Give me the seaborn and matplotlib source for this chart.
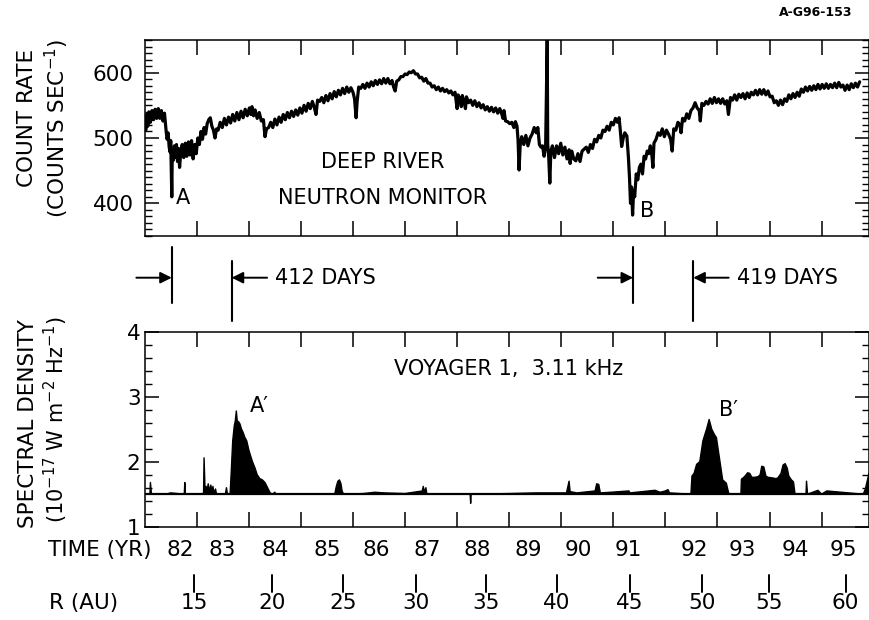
import numpy as np
import pandas as pd
import matplotlib
matplotlib.use("Agg")
import matplotlib.pyplot as plt
import seaborn as sns
from matplotlib.ticker import MultipleLocator, FixedLocator

# ---------------- data ----------------
# Deep River neutron monitor count rate (time axis in panel tick units)
nm_time = [81.00, 81.02, 81.04, 81.06, 81.08, 81.11, 81.14, 81.17, 81.20, 81.23, 81.26, 81.29, 81.32, 81.35, 81.38,
           81.41, 81.43, 81.45, 81.47, 81.49, 81.50, 81.52, 81.53, 81.55, 81.57, 81.59, 81.61, 81.63, 81.65, 81.67,
           81.69, 81.72, 81.75, 81.78, 81.81, 81.84, 81.87, 81.90, 81.93, 81.96, 81.99, 82.02, 82.05, 82.08, 82.11,
           82.14, 82.17, 82.20, 82.23, 82.26, 82.29, 82.32, 82.35, 82.38, 82.41, 82.45, 82.49, 82.53, 82.57, 82.61,
           82.65, 82.69, 82.73, 82.77, 82.81, 82.85, 82.89, 82.93, 82.97, 83.01, 83.04, 83.06, 83.09, 83.12, 83.16,
           83.20, 83.24, 83.28, 83.31, 83.34, 83.38, 83.42, 83.46, 83.50, 83.54, 83.58, 83.62, 83.66, 83.70, 83.74,
           83.78, 83.82, 83.86, 83.90, 83.94, 83.98, 84.02, 84.06, 84.10, 84.14, 84.18, 84.22, 84.26, 84.29, 84.32,
           84.36, 84.40, 84.44, 84.48, 84.52, 84.56, 84.60, 84.64, 84.68, 84.72, 84.76, 84.80, 84.84, 84.88, 84.92,
           84.96, 85.00, 85.03, 85.06, 85.08, 85.11, 85.15, 85.19, 85.23, 85.27, 85.31, 85.35, 85.39, 85.43, 85.47,
           85.51, 85.55, 85.59, 85.63, 85.67, 85.71, 85.75, 85.78, 85.81, 85.84, 85.88, 85.92, 85.96, 86.00, 86.04,
           86.08, 86.12, 86.16, 86.20, 86.24, 86.28, 86.32, 86.36, 86.40, 86.44, 86.48, 86.52, 86.56, 86.60, 86.64,
           86.68, 86.72, 86.76, 86.80, 86.84, 86.88, 86.92, 86.96, 87.00, 87.02, 87.05, 87.08, 87.10, 87.13, 87.16,
           87.18, 87.22, 87.26, 87.30, 87.34, 87.38, 87.42, 87.46, 87.50, 87.54, 87.58, 87.62, 87.66, 87.70, 87.74,
           87.78, 87.82, 87.86, 87.88, 87.90, 87.93, 87.97, 88.01, 88.05, 88.09, 88.12, 88.15, 88.17, 88.19, 88.21,
           88.24, 88.28, 88.32, 88.36, 88.40, 88.44, 88.48, 88.52, 88.55, 88.58, 88.61, 88.64, 88.67, 88.70, 88.73,
           88.74, 88.76, 88.78, 88.80, 88.83, 88.87, 88.91, 88.95, 88.99, 89.03, 89.07, 89.11, 89.15, 89.17, 89.20,
           89.24, 89.28, 89.32, 89.36, 89.40, 89.44, 89.48, 89.52, 89.56, 89.60, 89.64, 89.68, 89.72, 89.76, 89.80,
           89.84, 89.88, 89.92, 89.96, 90.00, 90.04, 90.08, 90.11, 90.13, 90.16, 90.19, 90.22, 90.26, 90.29, 90.31,
           90.33, 90.35, 90.37, 90.39, 90.41, 90.44, 90.47, 90.50, 90.53, 90.56, 90.59, 90.62, 90.65, 90.68, 90.71,
           90.74, 90.76, 90.78, 90.82, 90.86, 90.90, 90.94, 90.98, 91.02, 91.06, 91.10, 91.13, 91.16, 91.20, 91.24,
           91.28, 91.30, 91.33, 91.37, 91.41, 91.45, 91.49, 91.53, 91.57, 91.61, 91.65, 91.67, 91.70, 91.74, 91.78,
           91.82, 91.86, 91.90, 91.94, 91.98, 92.02, 92.06, 92.10, 92.14, 92.18, 92.21, 92.25, 92.29, 92.33, 92.37,
           92.41, 92.45, 92.49, 92.53, 92.57, 92.61, 92.65, 92.69, 92.73, 92.77, 92.81, 92.85, 92.89, 92.93, 92.97,
           93.01, 93.05, 93.09, 93.13, 93.17, 93.21, 93.25, 93.29, 93.33, 93.37, 93.41, 93.45, 93.49, 93.53, 93.57,
           93.61, 93.65, 93.69, 93.73, 93.77, 93.81, 93.85, 93.89, 93.93, 93.97, 94.01, 94.05, 94.09, 94.13, 94.17,
           94.21, 94.25, 94.29, 94.33, 94.37, 94.41, 94.45, 94.49, 94.53, 94.57, 94.61, 94.65, 94.69, 94.73]
nm_rate = [528, 512, 536, 518, 540, 524, 542, 528, 544, 530, 545, 530, 542, 526, 538,
           512, 498, 508, 486, 478, 496, 410, 482, 466, 488, 470, 490, 464, 484, 455,
           476, 490, 470, 492, 472, 494, 474, 496, 468, 490, 476, 500, 490, 510, 498,
           516, 506, 522, 528, 531, 518, 512, 500, 514, 512, 524, 516, 530, 520, 532,
           523, 536, 526, 539, 528, 541, 531, 544, 534, 546, 536, 548, 534, 543, 530,
           539, 526, 528, 502, 514, 516, 524, 516, 529, 520, 532, 524, 536, 528, 539,
           531, 541, 533, 543, 535, 546, 538, 550, 541, 553, 545, 556, 546, 536, 558,
           556, 562, 554, 565, 557, 568, 560, 571, 563, 573, 566, 576, 568, 578, 570,
           577, 570, 560, 531, 556, 578, 576, 582, 576, 584, 578, 586, 580, 588, 582,
           589, 583, 591, 584, 591, 583, 588, 578, 572, 587, 589, 594, 594, 598, 597,
           601, 600, 603, 598, 598, 592, 593, 587, 591, 584, 584, 578, 580, 574, 578,
           572, 576, 571, 574, 569, 572, 566, 570, 545, 566, 560, 548, 565, 556, 545,
           563, 554, 558, 550, 557, 548, 554, 546, 551, 543, 548, 541, 547, 540, 546,
           538, 545, 536, 530, 542, 526, 525, 522, 524, 516, 525, 518, 497, 451, 488,
           502, 490, 504, 488, 500, 506, 516, 508, 516, 490, 486, 488, 472, 488, 650,
           490, 470, 431, 480, 488, 470, 488, 476, 492, 474, 486, 468, 482, 461, 480,
           468, 465, 476, 464, 480, 483, 486, 478, 490, 484, 498, 494, 504, 500, 512,
           510, 518, 512, 524, 520, 530, 524, 531, 515, 487, 500, 508, 503, 470, 440,
           400, 425, 382, 420, 410, 445, 436, 455, 460, 445, 472, 468, 480, 476, 488,
           474, 455, 492, 498, 508, 504, 514, 502, 512, 506, 498, 480, 514, 512, 524,
           520, 508, 530, 526, 537, 530, 542, 546, 554, 546, 542, 526, 553, 550, 556,
           552, 560, 553, 562, 554, 560, 553, 560, 552, 557, 536, 562, 558, 566, 558,
           567, 562, 568, 560, 569, 562, 570, 566, 573, 566, 574, 567, 574, 566, 572,
           563, 564, 554, 557, 550, 558, 551, 560, 556, 566, 560, 568, 562, 570, 564,
           575, 570, 578, 572, 579, 573, 580, 574, 582, 575, 582, 576, 583, 576, 582,
           577, 584, 577, 585, 578, 581, 573, 581, 574, 583, 577, 584, 578, 586]

# Voyager 1 3.11 kHz spectral density (10^-17 W m^-2 Hz^-1)
sd_time = [81.00, 81.10, 81.11, 81.13, 81.40, 81.50, 81.76, 81.77, 81.78, 82.00, 82.10, 82.13, 82.14, 82.16,
           82.18, 82.20, 82.22, 82.24, 82.27, 82.29, 82.31, 82.33, 82.36, 82.38, 82.55, 82.57, 82.59, 82.64,
           82.66, 82.69, 82.72, 82.74, 82.76, 82.78, 82.80, 82.83, 82.86, 82.89, 82.92, 82.96, 83.00, 83.03,
           83.07, 83.12, 83.16, 83.21, 83.26, 83.31, 83.36, 83.41, 83.45, 83.50, 83.52, 84.00, 84.65, 84.68,
           84.71, 84.74, 84.77, 84.79, 84.82, 85.20, 85.42, 85.60, 86.00, 86.33, 86.35, 86.37, 86.40, 86.42,
           87.25, 87.26, 87.27, 88.00, 88.50, 88.90, 89.10, 89.15, 89.17, 89.30, 89.65, 89.68, 89.72, 89.75,
           89.95, 90.30, 90.32, 90.80, 90.90, 91.00, 91.05, 91.08, 91.49, 91.51, 91.55, 91.60, 91.66, 91.72,
           91.79, 91.84, 91.89, 91.94, 91.98, 92.04, 92.10, 92.17, 92.22, 92.45, 92.46, 92.52, 92.58, 92.62,
           92.66, 92.72, 92.78, 92.82, 92.85, 92.89, 92.93, 92.97, 93.06, 93.12, 93.16, 93.22, 93.26, 93.30,
           93.34, 93.37, 93.42, 93.46, 93.49, 93.70, 93.71, 93.73, 93.93, 94.00, 94.10, 94.80, 94.84, 94.88,
           94.91]
sd_value = [1.50, 1.50, 1.68, 1.50, 1.50, 1.52, 1.50, 1.68, 1.50, 1.50, 1.51, 1.50, 2.06, 1.55,
            1.62, 1.56, 1.66, 1.55, 1.64, 1.54, 1.62, 1.52, 1.58, 1.50, 1.50, 1.60, 1.50, 1.50,
            1.81, 2.32, 2.55, 2.63, 2.78, 2.60, 2.62, 2.58, 2.50, 2.45, 2.38, 2.32, 2.18, 2.10,
            2.00, 1.90, 1.80, 1.74, 1.72, 1.68, 1.60, 1.52, 1.50, 1.53, 1.50, 1.50, 1.50, 1.62,
            1.70, 1.72, 1.66, 1.55, 1.50, 1.51, 1.53, 1.52, 1.51, 1.55, 1.62, 1.53, 1.60, 1.50,
            1.50, 1.36, 1.50, 1.51, 1.52, 1.52, 1.52, 1.70, 1.54, 1.52, 1.55, 1.66, 1.65, 1.52,
            1.53, 1.55, 1.52, 1.56, 1.53, 1.55, 1.57, 1.52, 1.50, 1.78, 1.82, 1.96, 2.00, 2.32,
            2.50, 2.65, 2.50, 2.42, 2.37, 2.04, 1.72, 1.67, 1.50, 1.50, 1.73, 1.77, 1.83, 1.82,
            1.76, 1.76, 1.77, 1.80, 1.93, 1.92, 1.78, 1.76, 1.75, 1.74, 1.75, 1.82, 1.95, 1.97,
            1.90, 1.78, 1.72, 1.69, 1.50, 1.50, 1.70, 1.50, 1.56, 1.50, 1.55, 1.50, 1.58, 1.72,
            1.82]
sd_background = 1.5

year_ticks = [82, 83, 84, 85, 86, 87, 88, 89, 90, 91, 92, 93, 94]
year_labels = ["82", "83", "84", "85", "86", "87", "88", "89", "90", "91", "92", "93", "94", "95"]
year_label_pos = [81.68, 82.48, 83.50, 84.50, 85.44, 86.42, 87.38, 88.36, 89.32, 90.28, 91.55, 92.47, 93.49, 94.41]
r_labels = ["15", "20", "25", "30", "35", "40", "45", "50", "55", "60"]
r_pos = [81.95, 83.44, 84.81, 86.21, 87.55, 88.92, 90.32, 91.70, 92.99, 94.46]

forbush_time = [81.52, 90.38]      # A, B in neutron monitor
onset_time = [82.67, 91.535]       # A', B' onsets in Voyager data
lag_labels = ["412 DAYS", "419 DAYS"]

# ---------------- style ----------------
sns.set_theme(style="ticks")
plt.rcParams["font.family"] = ["DejaVu Sans"]
for k in ["text.color", "axes.labelcolor", "xtick.color", "ytick.color", "axes.edgecolor"]:
    plt.rcParams[k] = "black"
plt.rcParams["axes.linewidth"] = 1.1

W, H = 870, 620
fig = plt.figure(figsize=(8.7, 6.2), dpi=100)
fig.patch.set_facecolor("white")


def ax_px(l, t, r, b):
    return fig.add_axes([l / W, 1 - b / H, (r - l) / W, (b - t) / H])


XL = (81.0, 94.91)
FS = 15
TFS = 15.5
LFS = 15.5

# ---- top panel ----
ax1 = ax_px(144.7, 40, 869, 236)
sns.lineplot(x=nm_time, y=nm_rate, ax=ax1, color="black", lw=2.3, estimator=None, sort=False)
ax1.set_xlim(*XL)
ax1.set_ylim(350, 650)
ax1.xaxis.set_major_locator(FixedLocator(year_ticks))
ax1.yaxis.set_major_locator(MultipleLocator(100))
ax1.yaxis.set_minor_locator(MultipleLocator(10))
ax1.tick_params(axis="x", which="major", direction="in", length=11, width=1.1,
                top=True, bottom=True, labelbottom=False)
ax1.tick_params(axis="y", which="major", direction="in", length=10, width=1.1,
                left=True, right=True, labelsize=TFS, pad=8)
ax1.tick_params(axis="y", which="minor", direction="in", length=5, width=1.0, left=True, right=True)
ax1.set_xlabel("")
ax1.set_ylabel("")
ax1.text(0.329, 0.378, "DEEP RIVER", transform=ax1.transAxes, ha="center", va="center", fontsize=FS)
ax1.text(0.329, 0.195, "NEUTRON MONITOR", transform=ax1.transAxes, ha="center", va="center", fontsize=FS)
ax1.text(forbush_time[0] + 0.22, 0.195, "A", transform=ax1.get_xaxis_transform(), ha="center", va="center", fontsize=FS)
ax1.text(forbush_time[1] + 0.27, 0.128, "B", transform=ax1.get_xaxis_transform(), ha="center", va="center", fontsize=FS)

# ---- bottom panel ----
ax2 = ax_px(144.7, 331.7, 869, 526.7)
sd_arr = np.array(sd_value)
ax2.fill_between(sd_time, sd_background, sd_value, where=sd_arr >= sd_background,
                 interpolate=True, color="black", lw=0)
sns.lineplot(x=sd_time, y=sd_value, ax=ax2, color="black", lw=1.0, estimator=None, sort=False)
ax2.axhline(sd_background, color="black", lw=1.6)
ax2.set_xlim(*XL)
ax2.set_ylim(1, 4)
ax2.xaxis.set_major_locator(FixedLocator(year_ticks))
ax2.yaxis.set_major_locator(MultipleLocator(1))
ax2.yaxis.set_minor_locator(MultipleLocator(0.2))
ax2.tick_params(axis="x", which="major", direction="in", length=11, width=1.1,
                top=True, bottom=True, labelbottom=False)
ax2.tick_params(axis="y", which="major", direction="in", length=10, width=1.1,
                left=True, right=True, labelsize=TFS, pad=3)
ax2.tick_params(axis="y", which="minor", direction="in", length=5, width=1.0, left=True, right=True)
ax2.set_xlabel("")
ax2.set_ylabel("")
ax2.text(0.502, 0.81, "VOYAGER 1,  3.11 kHz", transform=ax2.transAxes, ha="center", va="center", fontsize=FS)
ax2.text(onset_time[0] + 0.53, 0.62, "A\u2032", transform=ax2.get_xaxis_transform(), ha="center", va="center", fontsize=FS)
ax2.text(onset_time[1] + 0.67, 0.60, "B\u2032", transform=ax2.get_xaxis_transform(), ha="center", va="center", fontsize=FS)

# ---- middle: delay markers (pixel-like y coordinates) ----
axm = ax_px(144.7, 240, 869, 330)
axm.set_xlim(*XL)
axm.set_ylim(330, 240)
axm.axis("off")
for f, o, lab in zip(forbush_time, onset_time, lag_labels):
    axm.plot([f, f], [247, 303], color="black", lw=1.5, clip_on=False)
    axm.plot([o, o], [261, 321], color="black", lw=1.5, clip_on=False)
    axm.annotate("", xy=(f, 277.7), xytext=(f - 0.68, 277.7),
                 arrowprops=dict(arrowstyle="-|>", color="black", lw=1.4, mutation_scale=17,
                                 shrinkA=0, shrinkB=0), annotation_clip=False)
    axm.annotate("", xy=(o, 277.7), xytext=(o + 0.68, 277.7),
                 arrowprops=dict(arrowstyle="-|>", color="black", lw=1.4, mutation_scale=17,
                                 shrinkA=0, shrinkB=0), annotation_clip=False)
    axm.text(o + 0.84, 277.7, lab, ha="left", va="center", fontsize=FS, clip_on=False)

# ---- time and distance scales below ----
axl = ax_px(144.7, 530, 869, 620)
axl.set_xlim(*XL)
axl.set_ylim(620, 530)
axl.axis("off")
for p, lab in zip(year_label_pos, year_labels):
    axl.text(p, 550, lab, ha="center", va="center", fontsize=TFS, clip_on=False)
for p, lab in zip(r_pos, r_labels):
    axl.plot([p, p], [575, 592], color="black", lw=1.4, clip_on=False)
    axl.text(p, 603, lab, ha="center", va="center", fontsize=TFS, clip_on=False)
fig.text(100 / W, 1 - 550 / H, "TIME (YR)", ha="center", va="center", fontsize=TFS)
fig.text(84 / W, 1 - 603 / H, "R (AU)", ha="center", va="center", fontsize=TFS)

# ---- axis titles ----
fig.text(27 / W, 1 - 118 / H, "COUNT RATE", rotation=90, ha="center", va="center", fontsize=LFS)
fig.text(57 / W, 1 - 128 / H, "(COUNTS SEC$^{-1}$)", rotation=90, ha="center", va="center", fontsize=LFS)
fig.text(28 / W, 1 - 424 / H, "SPECTRAL DENSITY", rotation=90, ha="center", va="center", fontsize=LFS)
fig.text(56 / W, 1 - 420 / H, "(10$^{-17}$ W m$^{-2}$ Hz$^{-1}$)", rotation=90, ha="center", va="center", fontsize=15)

fig.text(816 / W, 1 - 13 / H, "A-G96-153", ha="center", va="center", fontsize=9, fontweight="bold")

fig.savefig("out.png", dpi=100, facecolor="white")
